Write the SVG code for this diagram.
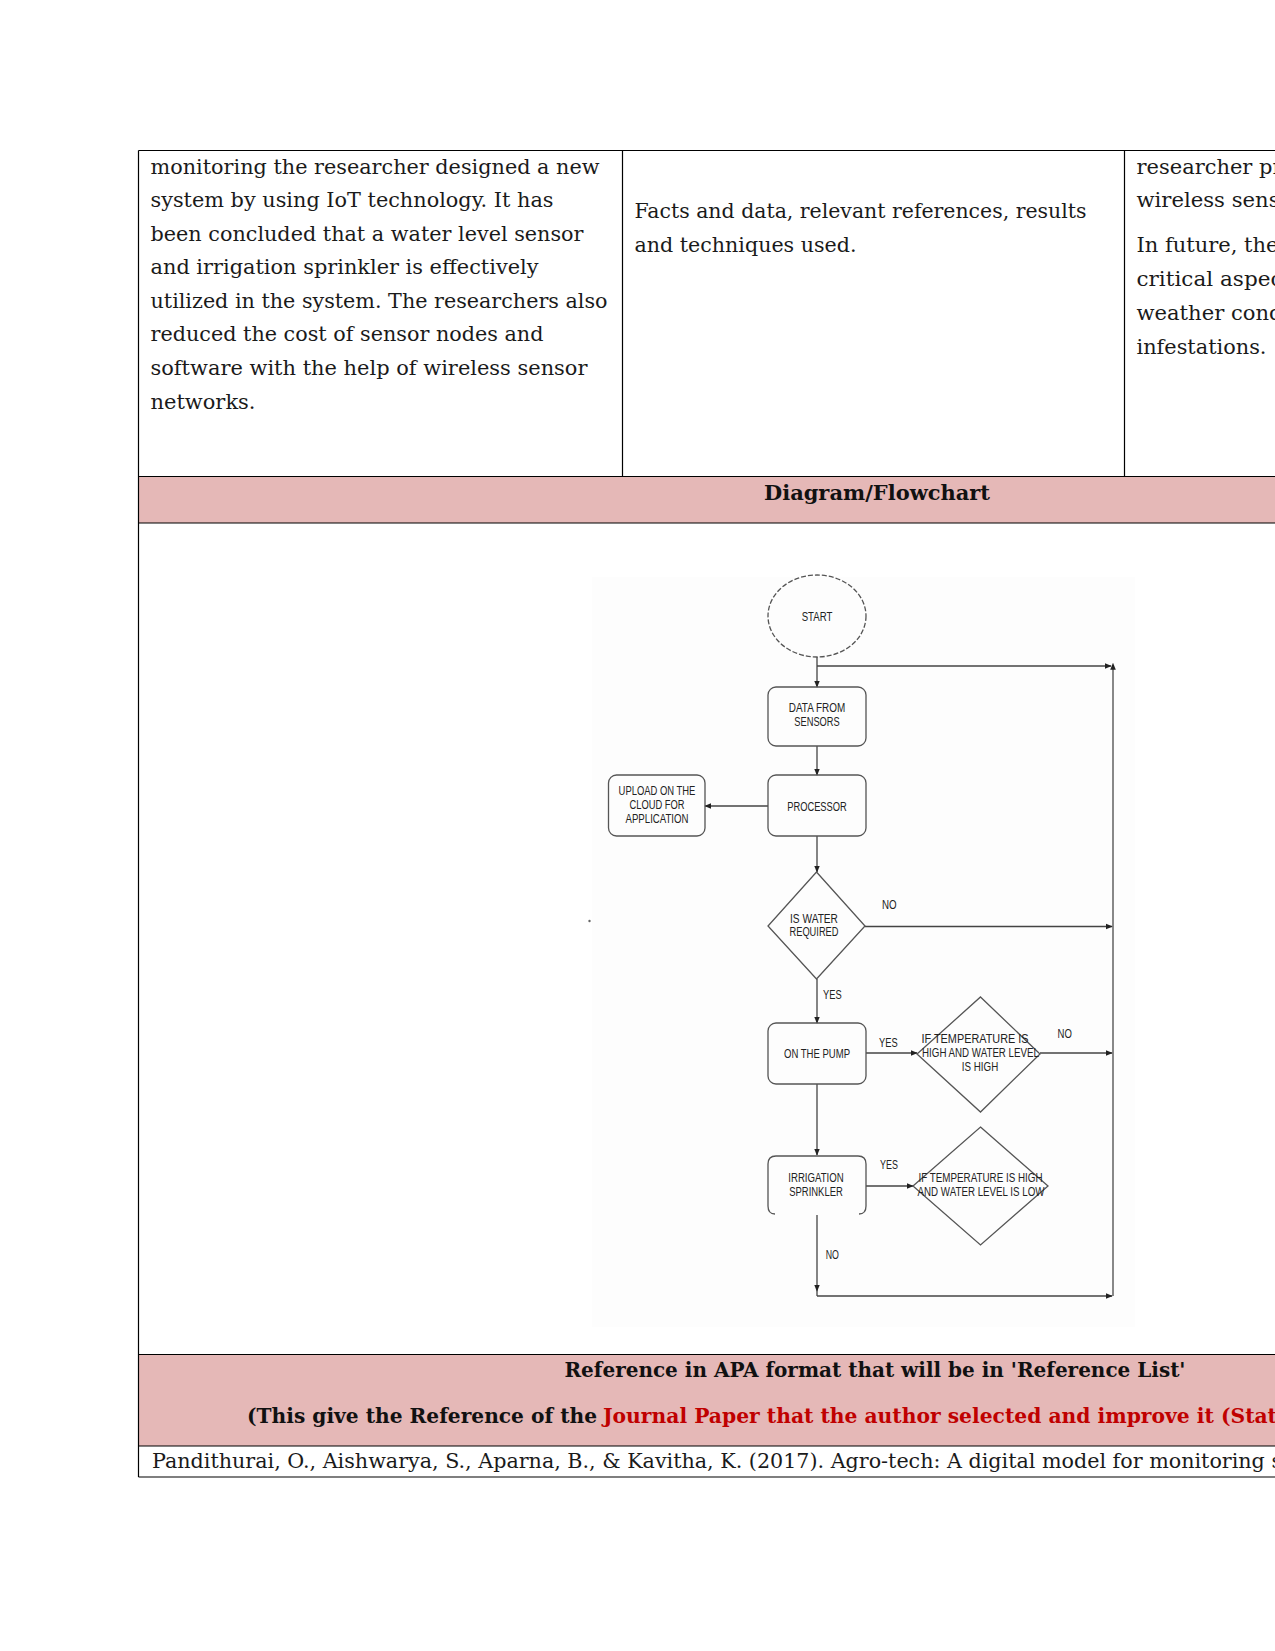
<svg xmlns="http://www.w3.org/2000/svg" width="1275" height="1651" viewBox="0 0 1275 1651">
<style>
.body{font-family:"DejaVu Serif","Liberation Serif",serif;font-size:20px;fill:#1a1a1a}
.hdr{font-family:"DejaVu Serif","Liberation Serif",serif;font-size:20px;font-weight:bold;fill:#111}
.red{fill:#c00000}
.tl{stroke:#000;stroke-width:1.2;fill:none}
.pink{fill:#e5b8b7}
.lbl{font-family:"Liberation Sans",Arial,sans-serif;font-size:12.5px;fill:#222;text-anchor:middle}
.lbs{font-family:"Liberation Sans",Arial,sans-serif;font-size:12.5px;fill:#222}
.box{fill:none;stroke:#555;stroke-width:1.3}
.con{stroke:#444;stroke-width:1.3;fill:none}
</style>
<defs>
<marker id="ah" viewBox="0 0 10 10" refX="9" refY="5" markerWidth="7" markerHeight="7" orient="auto" markerUnits="userSpaceOnUse">
<path d="M0,1 L10,5 L0,9 z" fill="#222"/>
</marker>
<marker id="ahs" viewBox="0 0 10 10" refX="1" refY="5" markerWidth="7" markerHeight="7" orient="auto-start-reverse" markerUnits="userSpaceOnUse">
<path d="M0,1 L10,5 L0,9 z" fill="#222"/>
</marker>
</defs>
<rect width="1275" height="1651" fill="#fff"/>

<g id="table">
<rect class="pink" x="138.5" y="476.5" width="1137" height="46.5"/>
<rect class="pink" x="138.5" y="1354.5" width="1137" height="91.5"/>
<line class="tl" x1="138.5" y1="150.5" x2="1275" y2="150.5"/>
<line class="tl" x1="138.5" y1="476.5" x2="1275" y2="476.5"/>
<line class="tl" x1="138.5" y1="523" x2="1275" y2="523"/>
<line class="tl" x1="138.5" y1="1354.5" x2="1275" y2="1354.5"/>
<line class="tl" x1="138.5" y1="1446" x2="1275" y2="1446"/>
<line class="tl" x1="138.5" y1="1477" x2="1275" y2="1477"/>
<line class="tl" x1="138.5" y1="150.5" x2="138.5" y2="1477"/>
<line class="tl" x1="622.5" y1="150.5" x2="622.5" y2="476.5"/>
<line class="tl" x1="1124.5" y1="150.5" x2="1124.5" y2="476.5"/>
</g>

<g id="col1">
<text class="body" x="150.5" y="173.5" textLength="449" lengthAdjust="spacingAndGlyphs">monitoring the researcher designed a new</text>
<text class="body" x="150.5" y="207" textLength="403" lengthAdjust="spacingAndGlyphs">system by using IoT technology. It has</text>
<text class="body" x="150.5" y="240.5" textLength="433" lengthAdjust="spacingAndGlyphs">been concluded that a water level sensor</text>
<text class="body" x="150.5" y="274" textLength="388" lengthAdjust="spacingAndGlyphs">and irrigation sprinkler is effectively</text>
<text class="body" x="150.5" y="307.5" textLength="457" lengthAdjust="spacingAndGlyphs">utilized in the system. The researchers also</text>
<text class="body" x="150.5" y="341" textLength="393" lengthAdjust="spacingAndGlyphs">reduced the cost of sensor nodes and</text>
<text class="body" x="150.5" y="374.5" textLength="437" lengthAdjust="spacingAndGlyphs">software with the help of wireless sensor</text>
<text class="body" x="150.5" y="408.5" textLength="105" lengthAdjust="spacingAndGlyphs">networks.</text>
</g>
<g id="col2">
<text class="body" x="634.5" y="218" textLength="452" lengthAdjust="spacingAndGlyphs">Facts and data, relevant references, results</text>
<text class="body" x="634.5" y="252" textLength="222" lengthAdjust="spacingAndGlyphs">and techniques used.</text>
</g>
<g id="col3">
<text class="body" x="1136.5" y="173.5" textLength="146" lengthAdjust="spacingAndGlyphs">researcher pr</text>
<text class="body" x="1136.5" y="207" textLength="143" lengthAdjust="spacingAndGlyphs">wireless sens</text>
<text class="body" x="1136.5" y="252" textLength="142" lengthAdjust="spacingAndGlyphs">In future, the</text>
<text class="body" x="1136.5" y="286" textLength="146" lengthAdjust="spacingAndGlyphs">critical aspec</text>
<text class="body" x="1136.5" y="320" textLength="146" lengthAdjust="spacingAndGlyphs">weather cond</text>
<text class="body" x="1136.5" y="353.5" textLength="130" lengthAdjust="spacingAndGlyphs">infestations.</text>
</g>

<g id="hdr-diagram">
<text class="hdr" x="764" y="499.5" textLength="226" lengthAdjust="spacingAndGlyphs">Diagram/Flowchart</text>
</g>

<g id="hdr-reference">
<text class="hdr" x="564.5" y="1376.5" textLength="621" lengthAdjust="spacingAndGlyphs">Reference in APA format that will be in 'Reference List'</text>
<text class="hdr" x="247" y="1422.5" textLength="350" lengthAdjust="spacingAndGlyphs">(This give the Reference of the</text>
<text class="hdr red" x="603" y="1422.5" textLength="674" lengthAdjust="spacingAndGlyphs">Journal Paper that the author selected and improve it (Stat</text>
</g>
<g id="reference-text">
<text class="body" x="152" y="1468" textLength="1130" lengthAdjust="spacingAndGlyphs">Pandithurai, O., Aishwarya, S., Aparna, B., &amp; Kavitha, K. (2017). Agro-tech: A digital model for monitoring s</text>
</g>

<rect x="592" y="577" width="543" height="750" fill="#fdfdfd"/>
<circle cx="589.5" cy="921" r="1.2" fill="#666"/>

<g id="connectors">
<line class="con" x1="817" y1="657" x2="817" y2="687" marker-end="url(#ah)"/>
<line class="con" x1="817" y1="666" x2="1111" y2="666" marker-end="url(#ah)"/>
<line x1="1113" y1="669" x2="1113" y2="1296" stroke="#888" stroke-width="2" marker-start="url(#ahs)"/>
<line class="con" x1="817" y1="746" x2="817" y2="775" marker-end="url(#ah)"/>
<line class="con" x1="768" y1="806" x2="705" y2="806" marker-end="url(#ah)"/>
<line class="con" x1="817" y1="836" x2="817" y2="872" marker-end="url(#ah)"/>
<line class="con" x1="865" y1="926.5" x2="1112" y2="926.5" marker-end="url(#ah)"/>
<line class="con" x1="817" y1="979" x2="817" y2="1023" marker-end="url(#ah)"/>
<line class="con" x1="866" y1="1053" x2="917" y2="1053" marker-end="url(#ah)"/>
<line class="con" x1="1040" y1="1053" x2="1112" y2="1053" marker-end="url(#ah)"/>
<line class="con" x1="817" y1="1084" x2="817" y2="1155" marker-end="url(#ah)"/>
<line class="con" x1="866" y1="1186" x2="913" y2="1186" marker-end="url(#ah)"/>
<line class="con" x1="817" y1="1215" x2="817" y2="1291" marker-end="url(#ah)"/>
<line class="con" x1="817" y1="1291" x2="817" y2="1296"/>
<line class="con" x1="817" y1="1296" x2="1112" y2="1296" marker-end="url(#ah)"/>
<text class="lbs" x="882" y="909" textLength="14.6" lengthAdjust="spacingAndGlyphs">NO</text>
<text class="lbs" x="823" y="999" textLength="18.6" lengthAdjust="spacingAndGlyphs">YES</text>
<text class="lbs" x="879" y="1047" textLength="18.6" lengthAdjust="spacingAndGlyphs">YES</text>
<text class="lbs" x="1057.5" y="1038" textLength="14.3" lengthAdjust="spacingAndGlyphs">NO</text>
<text class="lbs" x="880" y="1169" textLength="17.9" lengthAdjust="spacingAndGlyphs">YES</text>
<text class="lbs" x="825.7" y="1259" textLength="13.2" lengthAdjust="spacingAndGlyphs">NO</text>
</g>

<g id="start">
<ellipse cx="817" cy="616" rx="49" ry="41" fill="none" stroke="#555" stroke-width="1.3" stroke-dasharray="5 2"/>
<text class="lbl" x="817" y="620.5" textLength="30.7" lengthAdjust="spacingAndGlyphs">START</text>
</g>
<g id="data-from-sensors">
<rect class="box" x="768" y="687" width="98" height="59" rx="8"/>
<text class="lbl" x="817" y="712" textLength="56.4" lengthAdjust="spacingAndGlyphs">DATA FROM</text>
<text class="lbl" x="817" y="726" textLength="45.4" lengthAdjust="spacingAndGlyphs">SENSORS</text>
</g>
<g id="processor">
<rect class="box" x="768" y="775" width="98" height="61" rx="8"/>
<text class="lbl" x="817" y="811" textLength="59.6" lengthAdjust="spacingAndGlyphs">PROCESSOR</text>
</g>
<g id="upload">
<rect class="box" x="608.5" y="775" width="96.5" height="61" rx="8"/>
<text class="lbl" x="657" y="795" textLength="76.8" lengthAdjust="spacingAndGlyphs">UPLOAD ON THE</text>
<text class="lbl" x="657" y="809" textLength="55" lengthAdjust="spacingAndGlyphs">CLOUD FOR</text>
<text class="lbl" x="657" y="823" textLength="63" lengthAdjust="spacingAndGlyphs">APPLICATION</text>
</g>
<g id="is-water-required">
<polygon class="box" points="816.5,872 865,926 816.5,979 768,926"/>
<text class="lbl" x="814" y="923" textLength="47.9" lengthAdjust="spacingAndGlyphs">IS WATER</text>
<text class="lbl" x="814" y="936" textLength="49" lengthAdjust="spacingAndGlyphs">REQUIRED</text>
</g>
<g id="on-the-pump">
<rect class="box" x="768" y="1023" width="98" height="61" rx="8"/>
<text class="lbl" x="817" y="1057.5" textLength="66" lengthAdjust="spacingAndGlyphs">ON THE PUMP</text>
</g>
<g id="temp-high-water-high">
<polygon class="box" points="980.5,997 1040,1054 980.5,1112 917,1054"/>
<text class="lbl" x="975" y="1043" textLength="107" lengthAdjust="spacingAndGlyphs">IF TEMPERATURE IS</text>
<text class="lbl" x="980.5" y="1057" textLength="116.8" lengthAdjust="spacingAndGlyphs">HIGH AND WATER LEVEL</text>
<text class="lbl" x="980" y="1070.5" textLength="36.4" lengthAdjust="spacingAndGlyphs">IS HIGH</text>
</g>
<g id="irrigation-sprinkler">
<path class="box" d="M775,1214 Q768,1214 768,1206 V1164 Q768,1156 776,1156 H858 Q866,1156 866,1164 V1206 Q866,1214 859,1214"/>
<text class="lbl" x="816" y="1182" textLength="55.4" lengthAdjust="spacingAndGlyphs">IRRIGATION</text>
<text class="lbl" x="816" y="1195.5" textLength="53.6" lengthAdjust="spacingAndGlyphs">SPRINKLER</text>
</g>
<g id="temp-high-water-low">
<polygon class="box" points="980.5,1127 1048,1186 980.5,1245 913,1186"/>
<text class="lbl" x="980.5" y="1182" textLength="124" lengthAdjust="spacingAndGlyphs">IF TEMPERATURE IS HIGH</text>
<text class="lbl" x="981" y="1195.5" textLength="126.8" lengthAdjust="spacingAndGlyphs">AND WATER LEVEL IS LOW</text>
</g>
</svg>
